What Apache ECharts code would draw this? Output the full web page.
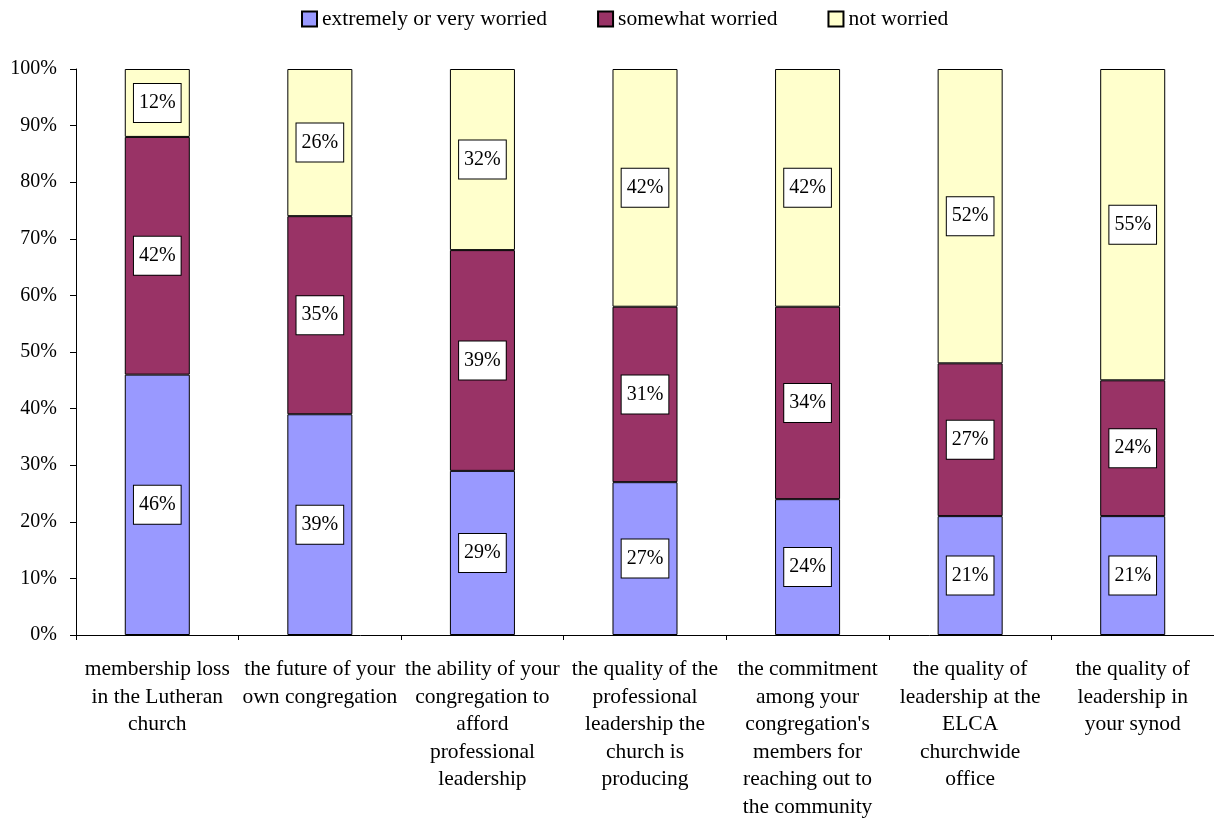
<!DOCTYPE html>
<html>
<head>
<meta charset="utf-8">
<script src="https://cdn.jsdelivr.net/npm/echarts@6/dist/echarts.min.js"></script>
<style>
  html, body { margin: 0; padding: 0; background: #fff; }
  #chart { width: 1214px; height: 821px; }
</style>
</head>
<body>
<div id="chart"></div>
<script>
// Survey items (category axis labels)
const categories = [
  "membership loss\nin the Lutheran\nchurch",
  "the future of your\nown congregation",
  "the ability of your\ncongregation to\nafford\nprofessional\nleadership",
  "the quality of the\nprofessional\nleadership the\nchurch is\nproducing",
  "the commitment\namong your\ncongregation's\nmembers for\nreaching out to\nthe community",
  "the quality of\nleadership at the\nELCA\nchurchwide\noffice",
  "the quality of\nleadership in\nyour synod"
];

// Share of respondents (%) per level of worry
const veryWorried = [46, 39, 29, 27, 24, 21, 21];
const somewhatWorried = [42, 35, 39, 31, 34, 27, 24];
const notWorried = [12, 26, 32, 42, 42, 52, 55];

const seriesNames = ["extremely or very worried", "somewhat worried", "not worried"];
const seriesColors = ["#9999FF", "#993366", "#FFFFCC"];
const seriesValues = [veryWorried, somewhatWorried, notWorried];

const FONT = "'Liberation Serif', 'Times New Roman', serif";

const chart = echarts.init(document.getElementById('chart'), null, { renderer: 'canvas' });

const series = seriesNames.map((name, i) => ({
  name: name,
  type: 'bar',
  stack: 'total',
  barWidth: '40%',
  data: seriesValues[i],
  itemStyle: { color: seriesColors[i], borderColor: '#000', borderWidth: 1 },
  label: {
    show: true,
    position: 'inside',
    formatter: '{c}%',
    color: '#000',
    fontFamily: FONT,
    fontSize: 20,
    backgroundColor: '#fff',
    borderColor: '#000',
    borderWidth: 1,
    padding: [9, 5, 9, 5]
  },
  emphasis: { disabled: true }
}));

chart.setOption({
  animation: false,
  backgroundColor: '#fff',
  legend: {
    top: 8,
    left: 301,
    padding: 0,
    itemWidth: 15,
    itemHeight: 15,
    itemGap: 50,
    icon: 'rect',
    textStyle: { fontFamily: FONT, fontSize: 21.5, color: '#000' },
    data: seriesNames
  },
  grid: { left: 76, right: -1, top: 69, bottom: 185, containLabel: false },
  xAxis: {
    type: 'category',
    data: categories,
    axisLine: { lineStyle: { color: '#000', width: 1 } },
    axisTick: { show: true, length: 5, interval: 0, lineStyle: { color: '#000' } },
    axisLabel: {
      interval: 0,
      margin: 21,
      color: '#000',
      fontFamily: FONT,
      fontSize: 21.5,
      lineHeight: 27.5,
      align: 'center'
    }
  },
  yAxis: {
    type: 'value',
    min: 0,
    max: 100,
    interval: 10,
    axisLine: { show: true, lineStyle: { color: '#000', width: 1 } },
    axisTick: { show: true, length: 6, lineStyle: { color: '#000' } },
    splitLine: { show: false },
    axisLabel: {
      formatter: '{value}%',
      margin: 19,
      color: '#000',
      fontFamily: FONT,
      fontSize: 20
    }
  },
  series: series
});
</script>
</body>
</html>
